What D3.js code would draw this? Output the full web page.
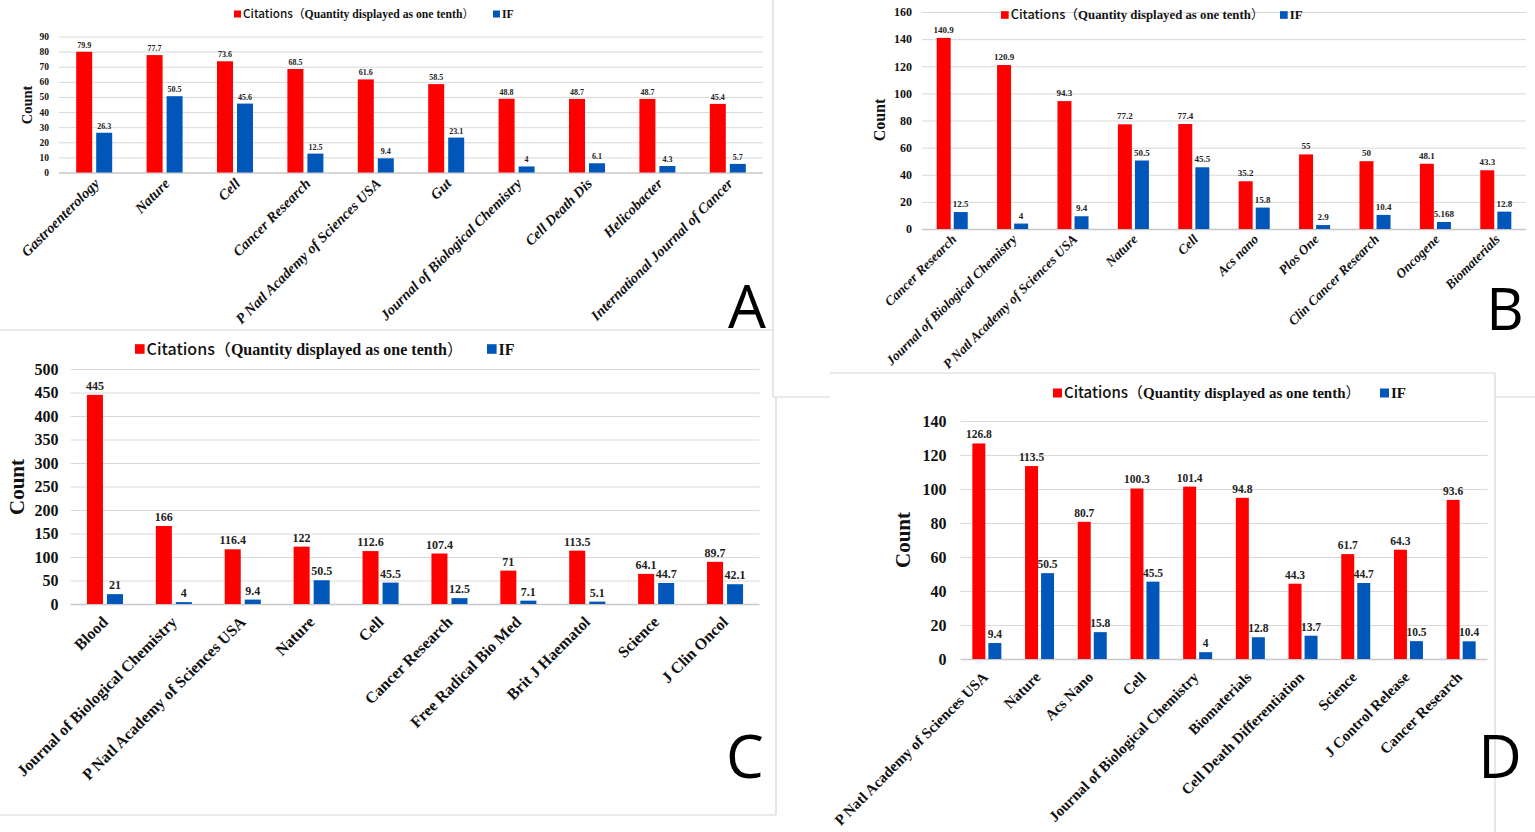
<!DOCTYPE html>
<html>
<head>
<meta charset="utf-8">
<script src="https://cdn.jsdelivr.net/npm/d3@7"></script>
<style>
  body { margin: 0; background: #fff; }
  svg { display: block; }
</style>
</head>
<body>
<svg id="chart" width="1535" height="832"></svg>
<script>
// ---- data ----
const catsA = ["Gastroenterology", "Nature", "Cell", "Cancer Research", "P Natl Academy of Sciences USA", "Gut", "Journal of Biological Chemistry", "Cell Death Dis", "Helicobacter", "International Journal of Cancer"];
const citA = [79.9, 77.7, 73.6, 68.5, 61.6, 58.5, 48.8, 48.7, 48.7, 45.4];
const ifA = [26.3, 50.5, 45.6, 12.5, 9.4, 23.1, 4, 6.1, 4.3, 5.7];
const ticksA = [0, 10, 20, 30, 40, 50, 60, 70, 80, 90];

const catsB = ["Cancer Research", "Journal of Biological Chemistry", "P Natl Academy of Sciences USA", "Nature", "Cell", "Acs nano", "Plos One", "Clin Cancer Research", "Oncogene", "Biomaterials"];
const citB = [140.9, 120.9, 94.3, 77.2, 77.4, 35.2, 55, 50, 48.1, 43.3];
const ifB = [12.5, 4, 9.4, 50.5, 45.5, 15.8, 2.9, 10.4, 5.168, 12.8];
const ticksB = [0, 20, 40, 60, 80, 100, 120, 140, 160];

const catsC = ["Blood", "Journal of Biological Chemistry", "P Natl Academy of Sciences USA", "Nature", "Cell", "Cancer Research", "Free Radical Bio Med", "Brit J Haematol", "Science", "J Clin Oncol"];
const citC = [445, 166, 116.4, 122, 112.6, 107.4, 71, 113.5, 64.1, 89.7];
const ifC = [21, 4, 9.4, 50.5, 45.5, 12.5, 7.1, 5.1, 44.7, 42.1];
const ticksC = [0, 50, 100, 150, 200, 250, 300, 350, 400, 450, 500];

const catsD = ["P Natl Academy of Sciences USA", "Nature", "Acs Nano", "Cell", "Journal of Biological Chemistry", "Biomaterials", "Cell Death Differentiation", "Science", "J Control Release", "Cancer Research"];
const citD = [126.8, 113.5, 80.7, 100.3, 101.4, 94.8, 44.3, 61.7, 64.3, 93.6];
const ifD = [9.4, 50.5, 15.8, 45.5, 4, 12.8, 13.7, 44.7, 10.5, 10.4];
const ticksD = [0, 20, 40, 60, 80, 100, 120, 140];

const seriesNames = ["Citations", "IF"];
const RED = "#ff0000", BLUE = "#0057b9";
const SERIF = "'Liberation Serif', 'Times New Roman', serif";
const BORDER = "#d6d6d6";

const svg = d3.select("#chart");

function frame(x1, y1, x2, y2) {
  svg.append("line").attr("x1", x1).attr("y1", y1).attr("x2", x2).attr("y2", y2)
    .attr("stroke", BORDER).attr("stroke-width", 1.2);
}
// panel frames (D is drawn last and covers part of B)
frame(0, 330, 773, 330);
frame(773, 0, 773, 397);
frame(773, 397, 1535, 397);
frame(776, 397, 776, 815);
frame(0, 815, 776, 815);

function drawPanel(p) {
  const g = svg.append("g");
  if (p.box) {
    g.append("rect").attr("x", p.box[0]).attr("y", p.box[1])
      .attr("width", p.box[2] - p.box[0]).attr("height", p.box[3] - p.box[1]).attr("fill", "#fff");
    g.append("line").attr("x1", p.box[0]).attr("y1", p.box[1]).attr("x2", p.box[2]).attr("y2", p.box[1])
      .attr("stroke", BORDER).attr("stroke-width", 1.2);
    g.append("line").attr("x1", p.box[2]).attr("y1", p.box[1]).attr("x2", p.box[2]).attr("y2", p.box[3])
      .attr("stroke", BORDER).attr("stroke-width", 1.2);
  }

  const x = d3.scaleBand().domain(p.cats).range([p.x0, p.x1]);
  const xs = d3.scaleBand().domain(seriesNames).range([0, x.bandwidth()])
    .paddingInner(p.pi).paddingOuter(p.po);
  const y = d3.scaleLinear().domain([0, p.ticks[p.ticks.length - 1]]).range([p.yb, p.yt]);

  // gridlines + tick labels
  const yAxis = g.append("g").attr("transform", `translate(${p.x0},0)`)
    .call(d3.axisLeft(y).tickValues(p.ticks).tickSize(-(p.x1 - p.x0)).tickPadding(p.tickPad));
  yAxis.select(".domain").remove();
  yAxis.selectAll(".tick line").attr("stroke", "#d9d9d9").attr("stroke-width", 1);
  yAxis.selectAll(".tick text").attr("font-family", SERIF).attr("font-weight", "bold")
    .attr("font-size", p.tickFont).attr("fill", "#111");
  yAxis.selectAll(".tick").filter(d => d === 0).select("line").attr("stroke", "#c8c8c8").attr("stroke-width", 1.5);

  // bars
  const rows = p.cats.map((c, i) => ({ cat: c, vals: [
    { key: "Citations", v: p.cit[i] }, { key: "IF", v: p.iff[i] }] }));
  const grp = g.selectAll(".grp").data(rows).enter().append("g")
    .attr("transform", d => `translate(${x(d.cat)},0)`);
  grp.selectAll("rect").data(d => d.vals).enter().append("rect")
    .attr("x", d => xs(d.key)).attr("width", xs.bandwidth())
    .attr("y", d => y(d.v)).attr("height", d => p.yb - y(d.v))
    .attr("fill", d => d.key === "Citations" ? RED : BLUE);
  grp.selectAll("text").data(d => d.vals).enter().append("text")
    .attr("x", d => xs(d.key) + xs.bandwidth() / 2).attr("y", d => y(d.v) - p.valGap)
    .attr("text-anchor", "middle").attr("font-family", SERIF).attr("font-weight", "bold")
    .attr("font-size", p.valFont).attr("fill", "#222").text(d => d.v);

  // x labels
  g.selectAll(".xl").data(p.cats).enter().append("text")
    .attr("transform", d => `translate(${x(d) + x.bandwidth() / 2 + p.lblDx},${p.yb + p.lblDy}) rotate(-45)`)
    .attr("text-anchor", "end").attr("font-family", SERIF).attr("font-weight", "bold")
    .attr("font-style", p.italic ? "italic" : "normal").attr("font-size", p.lblFont)
    .attr("fill", "#111").text(d => d);

  // y title
  g.append("text").attr("transform", `translate(${p.titleX},${p.titleY}) rotate(-90)`)
    .attr("text-anchor", "middle").attr("font-family", SERIF).attr("font-weight", "bold")
    .attr("font-size", p.titleFont).attr("fill", "#111").text("Count");

  // legend
  const lg = g.append("g").attr("transform", `translate(${p.legX},${p.legY})`);
  const s = p.legFont * 0.6;
  lg.append("rect").attr("x", 0).attr("y", -s / 2).attr("width", s).attr("height", s).attr("fill", RED);
  const t = lg.append("text").attr("x", s + 2).attr("y", 0).attr("dy", "0.35em")
    .attr("font-size", p.legFont).attr("fill", "#111");
  t.append("tspan").attr("font-family", "'Noto Sans CJK SC', 'Noto Sans', sans-serif")
    .attr("font-weight", 500).text("Citations（");
  t.append("tspan").attr("font-family", SERIF).attr("font-weight", "bold").text("Quantity displayed as one tenth");
  t.append("tspan").attr("font-family", "'Noto Sans CJK SC', sans-serif").text("）");
  lg.append("rect").attr("x", p.legIF).attr("y", -s / 2).attr("width", s).attr("height", s).attr("fill", BLUE);
  lg.append("text").attr("x", p.legIF + s + 2).attr("y", 0).attr("dy", "0.35em")
    .attr("font-family", SERIF).attr("font-weight", "bold").attr("font-size", p.legFont)
    .attr("fill", "#111").text("IF");

  // panel letter
  g.append("text").attr("x", p.letX).attr("y", p.letY).attr("text-anchor", "middle")
    .attr("font-family", "'Open Sans', sans-serif").attr("font-size", p.letFont)
    .attr("fill", "#000").text(p.letter);
}

drawPanel({ cats: catsA, cit: citA, iff: ifA, ticks: ticksA,
  x0: 59, x1: 763, yb: 172.5, yt: 36.5, pi: 0.2, po: 0.86,
  tickFont: 9.5, tickPad: 10, valFont: 8, valGap: 4,
  lblFont: 14.5, italic: true, lblDx: 6, lblDy: 12,
  titleX: 32, titleY: 105, titleFont: 14.5,
  legX: 234, legY: 14, legFont: 11.7, legIF: 259, letter: "A", letX: 747, letY: 328, letFont: 60 });

drawPanel({ cats: catsB, cit: citB, iff: ifB, ticks: ticksB,
  x0: 922, x1: 1526, yb: 229, yt: 12, pi: 0.18, po: 0.86,
  tickFont: 12, tickPad: 10, valFont: 9, valGap: 5,
  lblFont: 13.4, italic: true, lblDx: 5, lblDy: 11,
  titleX: 885, titleY: 120, titleFont: 16,
  legX: 1001, legY: 15, legFont: 12.8, legIF: 279, letter: "B", letX: 1505, letY: 330, letFont: 58 });

drawPanel({ cats: catsC, cit: citC, iff: ifC, ticks: ticksC,
  x0: 70.5, x1: 759.5, yb: 604, yt: 369, pi: 0.2, po: 0.82,
  tickFont: 16, tickPad: 12, valFont: 12, valGap: 5,
  lblFont: 16, italic: false, lblDx: 4, lblDy: 19,
  titleX: 24, titleY: 487, titleFont: 21,
  legX: 135, legY: 349, legFont: 16, legIF: 352, letter: "C", letX: 745, letY: 778, letFont: 60 });

drawPanel({ box: [830, 373, 1495, 840], cats: catsD, cit: citD, iff: ifD, ticks: ticksD,
  x0: 960.5, x1: 1487.5, yb: 659, yt: 421, pi: 0.19, po: 0.74,
  tickFont: 16, tickPad: 14, valFont: 11.5, valGap: 5,
  lblFont: 15, italic: false, lblDx: 2, lblDy: 19,
  titleX: 910, titleY: 540, titleFont: 21,
  legX: 1053, legY: 393, legFont: 15, legIF: 327, letter: "D", letX: 1500, letY: 778, letFont: 60 });
</script>
</body>
</html>
